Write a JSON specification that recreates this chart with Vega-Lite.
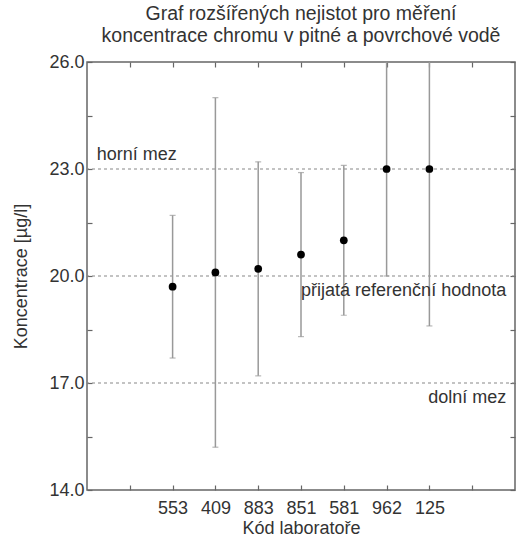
{
  "$schema": "https://vega.github.io/schema/vega-lite/v6.json",
  "width": 428,
  "height": 428,
  "autosize": "none",
  "padding": {"left": 87, "top": 62, "right": 1, "bottom": 46},
  "title": {
    "text": ["Graf rozšířených nejistot pro měření", "koncentrace chromu v pitné a povrchové vodě"],
    "font": "Liberation Sans",
    "fontSize": 19.5,
    "fontWeight": "normal",
    "color": "#333",
    "anchor": "middle",
    "offset": 7,
    "lineHeight": 22
  },
  "config": {
    "font": "Liberation Sans",
    "view": {"stroke": "#666", "strokeWidth": 1.5},
    "axis": {
      "domain": false,
      "grid": false,
      "tickColor": "#666",
      "tickWidth": 1.2,
      "tickSize": -5,
      "labelFont": "Liberation Sans",
      "labelFontSize": 18,
      "labelColor": "#333",
      "titleFont": "Liberation Sans",
      "titleFontSize": 18,
      "titleFontWeight": "normal",
      "titleColor": "#333"
    }
  },
  "datasets": {
    "labs": [
      {"lab": "553", "value": 19.7, "low": 17.7, "high": 21.7},
      {"lab": "409", "value": 20.1, "low": 15.2, "high": 25.0},
      {"lab": "883", "value": 20.2, "low": 17.2, "high": 23.2},
      {"lab": "851", "value": 20.6, "low": 18.3, "high": 22.9},
      {"lab": "581", "value": 21.0, "low": 18.9, "high": 23.1},
      {"lab": "962", "value": 23.0, "low": 20.0, "high": 26.0},
      {"lab": "125", "value": 23.0, "low": 18.6, "high": 27.4}
    ],
    "refs": [
      {"name": "horní mez", "y": 23, "pos": "L", "align": "left"},
      {"name": "přijatá referenční hodnota", "y": 20, "pos": "R", "align": "right"},
      {"name": "dolní mez", "y": 17, "pos": "R", "align": "right"}
    ]
  },
  "layer": [
    {
      "data": {"name": "refs"},
      "mark": {"type": "rule", "color": "#888", "strokeDash": [3, 3], "strokeWidth": 1.2},
      "encoding": {
        "y": {"field": "y", "type": "quantitative", "axis": null}
      }
    },
    {
      "data": {"name": "labs"},
      "mark": {"type": "rule", "color": "#999", "strokeWidth": 1.5, "clip": true},
      "encoding": {
        "x": {
          "field": "lab", "type": "ordinal",
          "scale": {"type": "point", "domain": ["L", "553", "409", "883", "851", "581", "962", "125", "R"], "padding": 1},
          "axis": {"orient": "top", "labels": false, "title": null}
        },
        "y": {
          "field": "low", "type": "quantitative",
          "scale": {"domain": [14, 26], "nice": false, "zero": false},
          "axis": {"orient": "right", "labels": false, "title": null, "values": [14, 15.5, 17, 18.5, 20, 21.5, 23, 24.5, 26]}
        },
        "y2": {"field": "high"}
      }
    },
    {
      "data": {"name": "labs"},
      "mark": {"type": "tick", "color": "#999", "size": 6, "thickness": 1.2, "clip": true},
      "encoding": {
        "x": {"field": "lab", "type": "ordinal", "axis": null},
        "y": {"field": "low", "type": "quantitative", "axis": null}
      }
    },
    {
      "data": {"name": "labs"},
      "mark": {"type": "tick", "color": "#999", "size": 6, "thickness": 1.2, "clip": true},
      "encoding": {
        "x": {"field": "lab", "type": "ordinal", "axis": null},
        "y": {"field": "high", "type": "quantitative", "axis": null}
      }
    },
    {
      "data": {"name": "labs"},
      "mark": {"type": "point", "filled": true, "color": "#000", "size": 60, "opacity": 1},
      "encoding": {
        "x": {
          "field": "lab", "type": "ordinal",
          "axis": {
            "orient": "bottom",
            "title": "Kód laboratoře",
            "labelAngle": 0,
            "labelPadding": 14,
            "titlePadding": 2,
            "labelExpr": "datum.label == 'L' || datum.label == 'R' ? '' : datum.label"
          }
        },
        "y": {
          "field": "value", "type": "quantitative",
          "axis": {
            "orient": "left",
            "title": "Koncentrace [µg/l]",
            "values": [14, 15.5, 17, 18.5, 20, 21.5, 23, 24.5, 26],
            "labelExpr": "(datum.value - 14) % 3 == 0 ? format(datum.value, '.1f') : ''",
            "labelPadding": 8,
            "titlePadding": 18
          }
        }
      }
    },
    {
      "data": {"name": "refs"},
      "transform": [{"filter": "datum.align == 'left'"}],
      "mark": {"type": "text", "align": "left", "baseline": "alphabetic", "dx": -33, "dy": -9, "fontSize": 18, "color": "#333"},
      "encoding": {
        "x": {"field": "pos", "type": "ordinal", "axis": null},
        "y": {"field": "y", "type": "quantitative", "axis": null},
        "text": {"field": "name"}
      }
    },
    {
      "data": {"name": "refs"},
      "transform": [{"filter": "datum.align == 'right'"}],
      "mark": {"type": "text", "align": "right", "baseline": "alphabetic", "dx": 34, "dy": 20, "fontSize": 18, "color": "#333"},
      "encoding": {
        "x": {"field": "pos", "type": "ordinal", "axis": null},
        "y": {"field": "y", "type": "quantitative", "axis": null},
        "text": {"field": "name"}
      }
    }
  ]
}
